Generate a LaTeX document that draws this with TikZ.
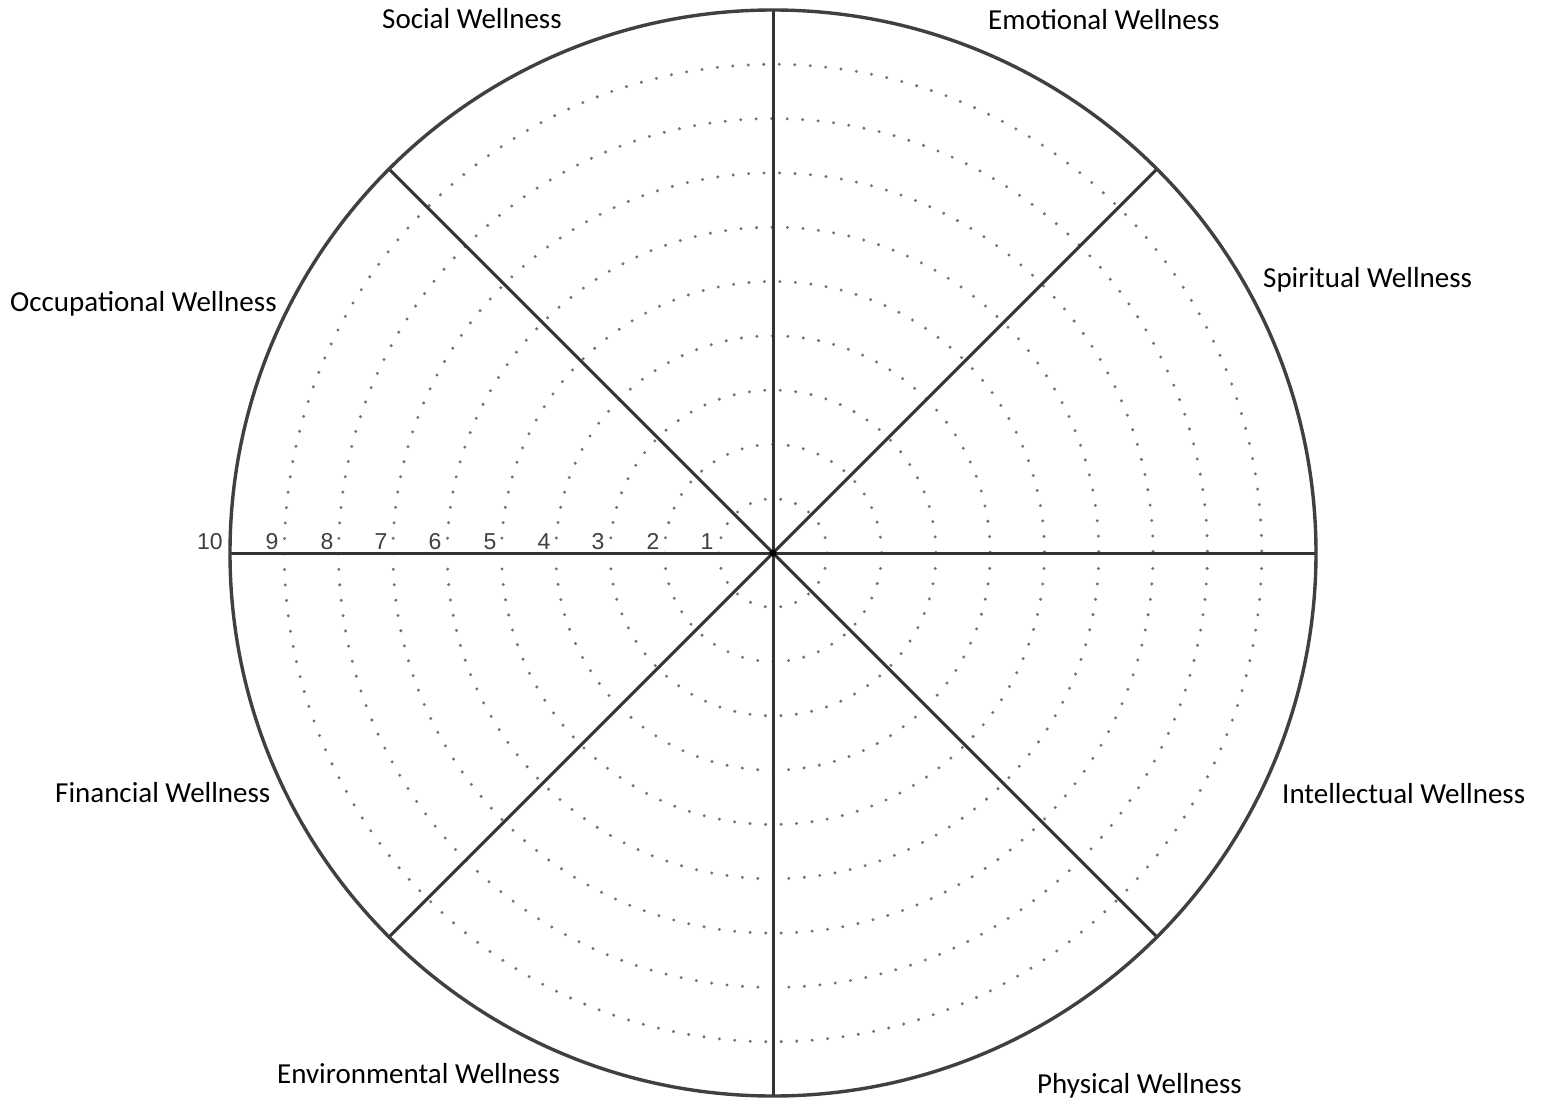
\documentclass[tikz,border=0pt]{standalone}
\usepackage{fontspec}
\usetikzlibrary{calc}
\setmainfont{Carlito}
\newfontfamily\numfont{Liberation Sans}
\begin{document}
\begin{tikzpicture}[x=1pt,y=-1pt,
  rim/.style={draw=black!75, line width=3.4pt},
  spoke/.style={draw=black!80, line width=3pt},
  ring/.style={draw=black!55, line width=3.3pt, line cap=round, dash pattern=on 0pt off 15.5pt},
  dimlabel/.style={font=\fontsize{29}{34}\selectfont, anchor=base west, inner sep=0pt, text=black},
  numlabel/.style={font=\numfont\fontsize{23}{27}\selectfont, anchor=base, inner sep=0pt, text=black!75}]
\useasboundingbox (0,0) rectangle (1543,1099);
\fill[white] (0,0) rectangle (1543,1099);
\coordinate (O) at (773,553);
% dotted rings
\foreach \k in {1,...,9} {
  \draw[ring] (O) circle[radius=\k*54.3];
}
% spokes
\foreach \a [count=\i] in {0,45,...,315} {
  \coordinate (R\i) at ($(O)+(\a:543)$);
}
\foreach \i in {1,...,8} {
  \draw[spoke] (O) -- (R\i);
}
\fill[black] (O) circle[radius=3.5];
% outer circle
\draw[rim] (O) circle[radius=543];
% numbers
\foreach \n/\x in {1/707,2/653,3/598,4/544,5/490,6/435,7/381,8/327,9/272,10/210} {
  \node[numlabel] (n\n) at (\x,549) {\n};
}
% dimension labels
\node[dimlabel] (social) at (382,29) {Social Wellness};
\node[dimlabel] (emotional) at (988,30) {Emotional Wellness};
\node[dimlabel] (spiritual) at (1263,288) {Spiritual Wellness};
\node[dimlabel] (occupational) at (10,312) {Occupational Wellness};
\node[dimlabel] (financial) at (55,802) {Financial Wellness};
\node[dimlabel] (intellectual) at (1282,803) {Intellectual Wellness};
\node[dimlabel] (environmental) at (277,1083) {Environmental Wellness};
\node[dimlabel] (physical) at (1037,1093) {Physical Wellness};
\end{tikzpicture}
\end{document}
